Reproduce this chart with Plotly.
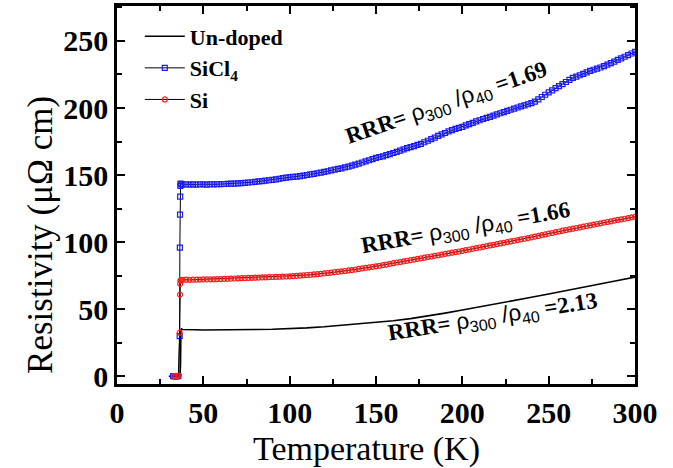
import plotly.graph_objects as go

# ---------------- data ----------------
undoped_T = [30, 32, 34, 35, 36, 36.5, 36.8, 37, 37.3, 38, 40, 45, 50, 60, 70, 80, 90,
             100, 110, 120, 130, 140, 150, 160, 170, 180, 190, 200, 210, 220, 230,
             240, 250, 260, 270, 280, 290, 300]
undoped_R = [0.2, 0.1, 0.0, 0.0, 0.2, 0.5, 10, 34, 35.4, 35.0, 34.8, 34.8, 34.6, 34.6, 34.7,
             35.0, 35.2, 35.5, 36.2, 37.0, 38.1, 39.3, 40.4, 41.5, 43.1, 45.0, 47.2,
             49.5, 52.0, 54.5, 56.8, 59.0, 61.4, 63.8, 66.4, 69.0, 71.5, 74.0]

sicl4_T = [32.5, 33.5, 34.5, 35.5, 36.3, 36.4, 36.5, 36.6, 36.7, 36.8, 37.2,
           38, 40, 42, 44, 46, 48, 50, 52, 54, 56, 58, 60, 62, 64, 66, 68, 70, 72, 74, 76,
           78, 80, 82, 84, 86, 88, 90, 92, 94, 96, 98, 100, 102, 104, 106, 108, 110, 112,
           114, 116, 118, 120, 122, 124, 126, 128, 130, 132, 134, 136, 138, 140, 142, 144,
           146, 148, 150, 152, 154, 156, 158, 160, 162, 164, 166, 168, 170, 172, 174, 176,
           178, 180, 182, 184, 186, 188, 190, 192, 194, 196, 198, 200, 202, 204, 206, 208,
           210, 212, 214, 216, 218, 220, 222, 224, 226, 228, 230, 232, 234, 236, 238, 240,
           242, 244, 246, 248, 250, 252, 254, 256, 258, 260, 262, 264, 266, 268, 270, 272,
           274, 276, 278, 280, 282, 284, 286, 288, 290, 292, 294, 296, 298, 300]
sicl4_R = [0.2, 0.0, 0.1, 0.3, 30, 96, 120.6, 134, 142, 143.7, 143.3,
           143.0, 143.2, 143.0, 143.1, 143.0, 143.2, 143.1, 143.0, 143.2, 143.1, 143.2,
           143.3, 143.4, 143.5, 143.6, 143.7, 143.9, 144.1, 144.3, 144.5, 144.7, 145.0,
           145.3, 145.6, 145.9, 146.2, 146.5, 146.9, 147.3, 147.7, 148.1, 148.5, 148.7,
           148.9, 149.2, 149.6, 150.1, 150.5, 150.9, 151.4, 151.9, 152.4, 152.9, 153.5,
           154.1, 154.7, 155.1, 155.8, 156.4, 157.1, 157.9, 158.6, 159.4, 160.2, 161.1,
           162.0, 162.9, 163.5, 164.0, 164.9, 165.6, 166.5, 167.3, 168.3, 169.2, 170.1,
           170.9, 171.6, 172.5, 173.3, 174.5, 175.6, 176.8, 178.0, 179.2, 180.3, 181.4,
           182.6, 183.6, 184.4, 185.2, 186.0, 187.0, 188.0, 189.0, 190.0, 190.9, 191.8,
           192.6, 193.4, 194.3, 195.2, 196.1, 197.0, 197.8, 198.7, 199.6, 200.4, 201.2,
           202.0, 202.8, 203.6, 204.8, 206.4, 208.2, 209.9, 211.6, 213.2, 214.8, 216.3,
           217.8, 219.4, 221.0, 222.4, 223.4, 224.4, 225.4, 226.5, 227.6, 228.5, 229.4,
           230.2, 231.2, 232.3, 233.4, 234.6, 235.8, 237.0, 238.2, 239.4, 240.6, 241.8]

si_T = [33, 34, 35, 35.8, 36.3, 36.5, 36.6, 36.7, 37.2,
        38, 40, 42, 44, 46, 48, 50, 52, 54, 56, 58, 60, 62, 64, 66, 68, 70, 72, 74, 76,
        78, 80, 82, 84, 86, 88, 90, 92, 94, 96, 98, 100, 102, 104, 106, 108, 110, 112,
        114, 116, 118, 120, 122, 124, 126, 128, 130, 132, 134, 136, 138, 140, 142, 144,
        146, 148, 150, 152, 154, 156, 158, 160, 162, 164, 166, 168, 170, 172, 174, 176,
        178, 180, 182, 184, 186, 188, 190, 192, 194, 196, 198, 200, 202, 204, 206, 208,
        210, 212, 214, 216, 218, 220, 222, 224, 226, 228, 230, 232, 234, 236, 238, 240,
        242, 244, 246, 248, 250, 252, 254, 256, 258, 260, 262, 264, 266, 268, 270, 272,
        274, 276, 278, 280, 282, 284, 286, 288, 290, 292, 294, 296, 298, 300]
si_R = [0.2, 0.0, 0.3, 0.5, 32.6, 61, 69, 71.4, 71.8,
        72.0, 72.1, 72.0, 72.1, 72.2, 72.2, 72.3, 72.3, 72.4, 72.4, 72.5, 72.6, 72.7,
        72.8, 72.9, 73.0, 73.1, 73.2, 73.3, 73.4, 73.5, 73.6, 73.7, 73.8, 73.9, 74.0,
        74.1, 74.2, 74.3, 74.4, 74.5, 74.6, 74.8, 75.0, 75.2, 75.4, 75.6, 75.8, 76.0,
        76.2, 76.5, 76.8, 77.1, 77.4, 77.7, 78.0, 78.3, 78.6, 79.0, 79.3, 79.7, 80.1,
        80.5, 80.9, 81.3, 81.7, 82.1, 82.5, 83.0, 83.4, 83.9, 84.4, 84.9, 85.3, 85.8,
        86.2, 86.7, 87.1, 87.6, 88.0, 88.5, 89.0, 89.4, 89.9, 90.3, 90.8, 91.3, 91.7,
        92.2, 92.6, 93.1, 93.6, 94.1, 94.6, 95.1, 95.6, 96.1, 96.6, 97.1, 97.6, 98.1,
        98.6, 99.1, 99.6, 100.1, 100.6, 101.1, 101.6, 102.1, 102.6, 103.1, 103.6, 104.2,
        104.7, 105.3, 105.8, 106.4, 106.9, 107.5, 108.0, 108.6, 109.1, 109.6, 110.1,
        110.6, 111.1, 111.6, 112.1, 112.6, 113.1, 113.6, 114.1, 114.6, 115.1, 115.6,
        116.1, 116.6, 117.0, 117.5, 118.0, 118.5, 119.0]

series_names = ["Un-doped", "SiCl<sub>4</sub>", "Si"]
rrr_values = ["1.69", "1.66", "2.13"]
x_ticks = [0, 50, 100, 150, 200, 250, 300]
y_ticks = [0, 50, 100, 150, 200, 250]
x_title = "Temperature (K)"
y_title = "Resistivity (μΩ cm)"

SERIF = "Liberation Serif, Times New Roman, serif"

fig = go.Figure()
fig.add_trace(go.Scatter(x=undoped_T, y=undoped_R, mode="lines", name=series_names[0],
                         line=dict(color="black", width=1.6)))
fig.add_trace(go.Scatter(x=sicl4_T, y=sicl4_R, mode="lines+markers", name=series_names[1],
                         line=dict(color="black", width=1),
                         marker=dict(symbol="square-open", size=5, color="#1a1aff",
                                     line=dict(width=1.2, color="#1a1aff"))))
fig.add_trace(go.Scatter(x=si_T, y=si_R, mode="lines+markers", name=series_names[2],
                         line=dict(color="black", width=1),
                         marker=dict(symbol="circle-open", size=5, color="#ff1a1a",
                                     line=dict(width=1.2, color="#ff1a1a"))))

def rrr_text(v):
    return ("<b>RRR= </b><span style='font-family:Liberation Sans'>ρ<sub>300</sub> /ρ<sub>40</sub></span>"
            "<b> =" + v + "</b>")

ann_pos = [(191, 203, -19), (202, 110, -10), (218, 44, -9)]
for (x, y, ang), v in zip(ann_pos, rrr_values):
    fig.add_annotation(x=x, y=y, xref="x", yref="y", text=rrr_text(v), showarrow=False,
                       textangle=ang, font=dict(family=SERIF, size=23, color="black"))

# axis titles (placed as in the original, slightly off-centre)
fig.add_annotation(x=0.481, y=-0.172, xref="paper", yref="paper", text=x_title,
                   showarrow=False, xanchor="center", yanchor="middle",
                   font=dict(family=SERIF, size=34, color="black"))
fig.add_annotation(x=-0.149, y=0.394, xref="paper", yref="paper", text=y_title,
                   showarrow=False, xanchor="center", yanchor="middle", textangle=-90,
                   font=dict(family=SERIF, size=35, color="black"))

axis_common = dict(showline=True, linecolor="black", linewidth=2.5, mirror="ticks",
                   ticks="inside", ticklen=8, tickwidth=2, tickcolor="black",
                   showgrid=False, zeroline=False, automargin=False,
                   tickfont=dict(family=SERIF, size=30, color="black", weight="bold"))

fig.update_xaxes(range=[0, 300], tickvals=x_ticks,
                 minor=dict(ticks="inside", ticklen=5, tickwidth=2, dtick=25, tick0=0,
                            tickcolor="black"),
                 **axis_common)
fig.update_yaxes(range=[-5.6, 276], tickvals=y_ticks,
                 minor=dict(ticks="inside", ticklen=5, tickwidth=2, dtick=25, tick0=0,
                            tickcolor="black"),
                 **axis_common)

fig.update_layout(
    width=673, height=468,
    margin=dict(l=117, r=38, t=6, b=84),
    plot_bgcolor="white", paper_bgcolor="white",
    showlegend=True,
    legend=dict(x=0.044, y=0.975, xanchor="left", yanchor="top",
                font=dict(family=SERIF, size=22, color="black", weight="bold"),
                bgcolor="rgba(0,0,0,0)", itemwidth=40, tracegroupgap=0),
)

fig.write_html("out.html", config={"displayModeBar": False},
               post_script="document.body.style.margin='0px';document.body.style.overflow='hidden';")
